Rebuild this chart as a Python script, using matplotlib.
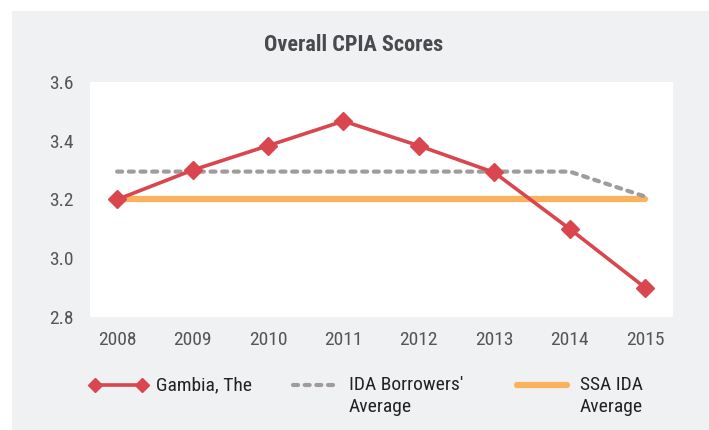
import matplotlib
matplotlib.use("Agg")
import matplotlib.pyplot as plt
from matplotlib.lines import Line2D
from matplotlib.patches import Rectangle
from matplotlib import font_manager

years = ["2008", "2009", "2010", "2011", "2012", "2013", "2014", "2015"]
gambia = [3.20, 3.30, 3.383, 3.467, 3.383, 3.292, 3.10, 2.90]
ida_avg = [3.295, 3.295, 3.295, 3.295, 3.295, 3.295, 3.295, 3.21]
ssa_avg = [3.20, 3.20, 3.20, 3.20, 3.20, 3.20, 3.20, 3.20]
series_names = ["Gambia, The", "IDA Borrowers'\nAverage", "SSA IDA\nAverage"]
yticks = [2.8, 3.0, 3.2, 3.4, 3.6]
title = "Overall CPIA Scores"

avail = {f.name for f in font_manager.fontManager.ttflist}
fams = [f for f in ["Liberation Sans Narrow", "Roboto Condensed", "Roboto", "DejaVu Sans"] if f in avail]
plt.rcParams["font.family"] = fams

W, H = 709, 430
fig = plt.figure(figsize=(W / 100, H / 100), dpi=100)
fig.patch.set_facecolor("white")
fig.add_artist(Rectangle((12 / W, 0), 1 - 12 / W, 1 - 11 / H, transform=fig.transFigure,
                         facecolor="#f0f1f3", edgecolor="none", zorder=0))

ax = fig.add_axes([90 / W, 1 - 317 / H, (673 - 90) / W, (317 - 82) / H])
ax.set_facecolor("white")
x = list(range(len(years)))

red = "#d9464e"
gray = "#a19c9c"
orange = "#fbb25e"

ax.plot(x, ssa_avg, color=orange, lw=4.5, solid_capstyle="round", zorder=2)
ax.plot(x, ida_avg, color=gray, lw=3, linestyle=(0, (1.2, 1.6)), dash_capstyle="round", zorder=3)
ax.plot(x, gambia, color=red, lw=2.6, marker="D", markersize=9, zorder=4)

ax.set_xlim(-0.36, 7.37)
ax.set_ylim(2.8, 3.6)
ax.set_yticks(yticks)
ax.set_yticklabels([f"{v:.1f}" for v in yticks])
ax.set_xticks(x)
ax.set_xticklabels(years)
for s in ax.spines.values():
    s.set_visible(False)
ax.tick_params(length=0, labelsize=14, colors="#555559", pad=10)
ax.tick_params(axis="y", pad=12)

fig.text(354 / W, 1 - 45 / H, title, ha="center", va="center", fontsize=16,
         fontweight="bold", color="#4a4a4e")

# manual legend
ly = 1 - 385 / H
handles = [
    dict(x0=95, x1=142, color=red, lw=2.6, ls="-", marker="D"),
    dict(x0=293, x1=335, color=gray, lw=3, ls=(0, (1.2, 1.6)), marker=None),
    dict(x0=517, x1=567, color=orange, lw=4.5, ls="-", marker=None),
]
text_x = [156, 349, 580]
for h, tx, name in zip(handles, text_x, series_names):
    ln = Line2D([h["x0"] / W, h["x1"] / W], [ly, ly], transform=fig.transFigure,
                color=h["color"], lw=h["lw"], linestyle=h["ls"],
                solid_capstyle="round", dash_capstyle="round")
    fig.add_artist(ln)
    if h["marker"]:
        mk = Line2D([h["x0"] / W, h["x1"] / W], [ly, ly], transform=fig.transFigure,
                    color=h["color"], lw=0, marker="D", markersize=7.5)
        fig.add_artist(mk)
    fig.text(tx / W, 1 - 376 / H, name, ha="left", va="top", fontsize=14,
             color="#222222", linespacing=1.3)

fig.savefig("out.png", dpi=100, facecolor=fig.get_facecolor())
